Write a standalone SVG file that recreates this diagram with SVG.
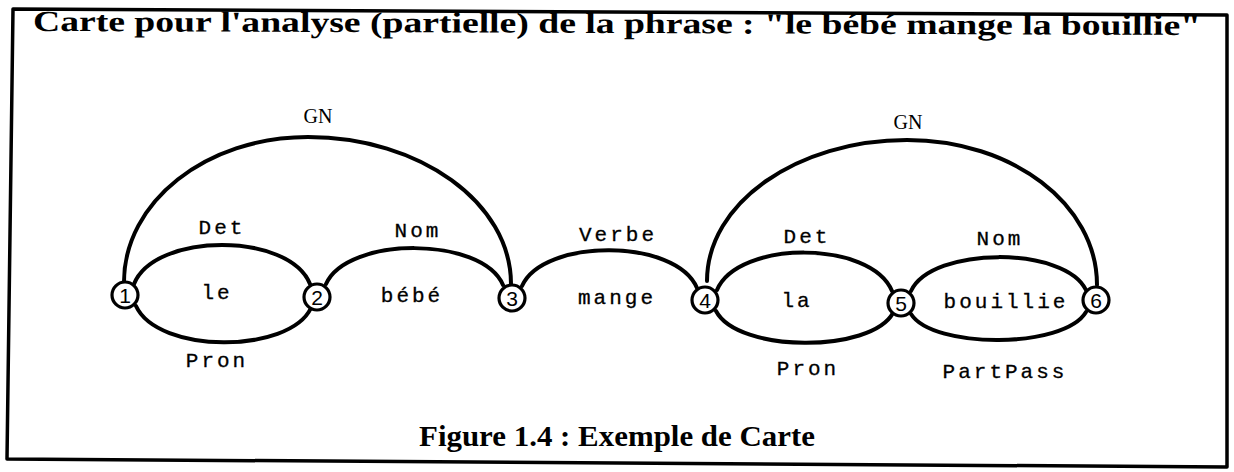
<svg xmlns="http://www.w3.org/2000/svg" width="1234" height="472" viewBox="0 0 1234 472">
<style>
.frame{fill:none;stroke:#000;stroke-width:3.5;stroke-linejoin:round}
.arc{fill:none;stroke:#000;stroke-width:4;stroke-linecap:round}
.node circle{fill:#fff;stroke:#000;stroke-width:3.2}
.num{font-family:"Liberation Sans",Arial,sans-serif;font-size:21px;text-anchor:middle;fill:#000}
.lab{font-family:"Liberation Mono","Courier New",monospace;font-size:21px;letter-spacing:3px;text-anchor:middle;fill:#000;stroke:#000;stroke-width:0.3}
.gn{font-family:"Liberation Serif","Times New Roman",serif;font-size:20px;text-anchor:middle;fill:#000}
.title{font-family:"Liberation Serif","Times New Roman",serif;font-weight:bold;font-size:29px;fill:#000}
</style>
<rect width="1234" height="472" fill="#fff"/>
<path class="frame" d="M13 9 L1227 15 L1227 467 L7 459 Z"/>
<text class="title" x="33" y="33" textLength="1168" lengthAdjust="spacingAndGlyphs" transform="rotate(0.2 617 30)">Carte pour l'analyse (partielle) de la phrase : "le bébé mange la bouillie"</text>
<text class="title" x="419" y="446" font-size="25" textLength="396" lengthAdjust="spacingAndGlyphs">Figure 1.4 : Exemple de Carte</text>
<g id="connectors">
<path class="arc" d="M124 282 C124 202 206 137 308 137 C420 137 511 203 511 284"/>
<path class="arc" d="M707 281 C707 203 797 140 907 140 C1012 140 1097 204 1097 285"/>
<path class="arc" d="M134 284 C155 232 289 232 310 284"/>
<path class="arc" d="M136 306 C158 354 289 354 311 308"/>
<path class="arc" d="M326 284 C347 236 482 236 503 285"/>
<path class="arc" d="M522 286 C543 238 676 238 697 288"/>
<path class="arc" d="M717 290 C738 240 871 240 892 291"/>
<path class="arc" d="M716 311 C738 353 871 353 893 313"/>
<path class="arc" d="M911 291 C932 246 1065 246 1086 290"/>
<path class="arc" d="M911 314 C933 349 1064 349 1086 312"/>
<text class="gn" x="318" y="123">GN</text>
<text class="gn" x="908" y="129">GN</text>
<text class="lab" x="222" y="234">Det</text>
<text class="lab" x="217" y="299">le</text>
<text class="lab" x="217" y="367">Pron</text>
<text class="lab" x="418" y="237">Nom</text>
<text class="lab" x="412" y="302">bébé</text>
<text class="lab" x="618" y="241">Verbe</text>
<text class="lab" x="617" y="304">mange</text>
<text class="lab" x="807" y="243">Det</text>
<text class="lab" x="797" y="307">la</text>
<text class="lab" x="808" y="375">Pron</text>
<text class="lab" x="1000" y="245">Nom</text>
<text class="lab" x="1006" y="308">bouillie</text>
<text class="lab" x="1005" y="378">PartPass</text>
</g>
<g id="n1" class="node"><circle cx="125" cy="295" r="13"/><text class="num" x="125" y="302.5">1</text></g>
<g id="n2" class="node"><circle cx="317" cy="297" r="13"/><text class="num" x="317" y="304.5">2</text></g>
<g id="n3" class="node"><circle cx="512" cy="298" r="13"/><text class="num" x="512" y="305.5">3</text></g>
<g id="n4" class="node"><circle cx="705" cy="300" r="13"/><text class="num" x="705" y="307.5">4</text></g>
<g id="n5" class="node"><circle cx="901" cy="303" r="13"/><text class="num" x="901" y="310.5">5</text></g>
<g id="n6" class="node"><circle cx="1096" cy="300" r="13"/><text class="num" x="1096" y="307.5">6</text></g>
</svg>
